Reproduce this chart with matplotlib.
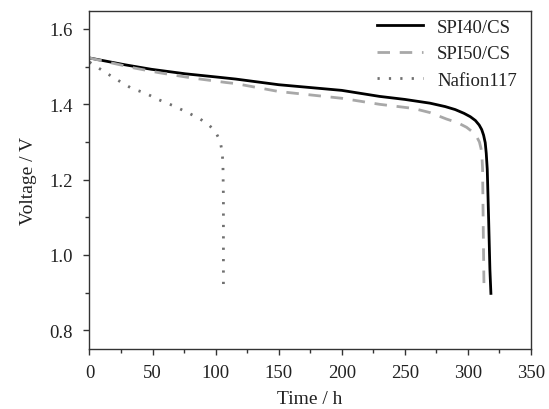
import matplotlib
matplotlib.use('Agg')
import matplotlib.pyplot as plt
from matplotlib.ticker import MultipleLocator

plt.rcParams['font.family'] = ['Liberation Serif', 'DejaVu Serif']

# SPI40/CS
spi40_t = [0, 28, 49, 76, 102, 116, 150, 200, 230, 250, 270, 282, 290, 297, 302, 306, 309, 311, 312.5,
           313.8, 314.6, 315.4, 316.5, 317.5, 318.3]
spi40_v = [1.523, 1.505, 1.493, 1.481, 1.472, 1.467, 1.452, 1.437, 1.421, 1.413, 1.403, 1.394, 1.386, 1.376,
           1.367, 1.357, 1.345, 1.333, 1.318, 1.298, 1.27, 1.228, 1.095, 0.962, 0.898]

# SPI50/CS
spi50_t = [0, 36, 55, 81, 108, 116, 150, 200, 230, 257, 270, 283, 292, 299, 304, 307, 309.2, 310.5,
           311.2, 311.7, 312.3, 312.8]
spi50_v = [1.523, 1.496, 1.484, 1.470, 1.458, 1.455, 1.434, 1.416, 1.400, 1.389, 1.378, 1.361, 1.351, 1.339,
           1.326, 1.314, 1.300, 1.282, 1.262, 1.228, 1.05, 0.918]

# Nafion117
naf_t = [0, 12.4, 23, 33.6, 44, 55, 66.6, 78.5, 87.7, 94, 97.5, 100.5, 102.5, 104.1, 105.2, 105.8, 106.2, 106.2]
naf_v = [1.512, 1.485, 1.463, 1.442, 1.430, 1.412, 1.396, 1.377, 1.361, 1.347, 1.336, 1.323, 1.310, 1.294,
         1.272, 1.245, 1.15, 0.915]

fig = plt.figure(figsize=(5.49, 4.10), dpi=100)
ax = fig.add_axes([0.163, 0.146, 0.804, 0.825])

ax.plot(spi40_t, spi40_v, color='black', lw=2.0, label='SPI40/CS')
ax.plot(spi50_t, spi50_v, color='#a8a8a8', lw=2.0, ls=(0, (4.5, 3.5)), label='SPI50/CS')
ax.plot(naf_t, naf_v, color='#707070', lw=2.0, ls=(0, (0.8, 3.3)), label='Nafion117')

ax.set_xlim(0, 350)
ax.set_ylim(0.75, 1.648)
ax.xaxis.set_major_locator(MultipleLocator(50))
ax.xaxis.set_minor_locator(MultipleLocator(25))
ax.yaxis.set_major_locator(MultipleLocator(0.2))
ax.yaxis.set_minor_locator(MultipleLocator(0.1))
ax.yaxis.set_major_formatter(plt.FuncFormatter(lambda v, p: f'{v:.1f}'))

for s in ax.spines.values():
    s.set_color('#333333')
    s.set_linewidth(1.0)
ax.tick_params(which='both', direction='out', colors='#333333', labelcolor='#222222', labelsize=13.5)
ax.tick_params(which='major', length=4, width=1)
ax.tick_params(which='minor', length=3, width=1)
ax.tick_params(axis='x', which='major', pad=7)
ax.tick_params(axis='y', which='major', pad=8)

ax.set_xlabel('Time / h', fontsize=14, color='#222222', labelpad=6.5)
ax.set_ylabel('Voltage / V', fontsize=14, color='#222222', labelpad=9)

leg = ax.legend(loc='upper right', bbox_to_anchor=(0.977, 0.988), frameon=False, fontsize=13.5,
                handlelength=2.45, labelspacing=0.5, borderaxespad=0, borderpad=0.2, handletextpad=0.75)
for t in leg.get_texts():
    t.set_color('#222222')

fig.savefig('out.png', dpi=100)
